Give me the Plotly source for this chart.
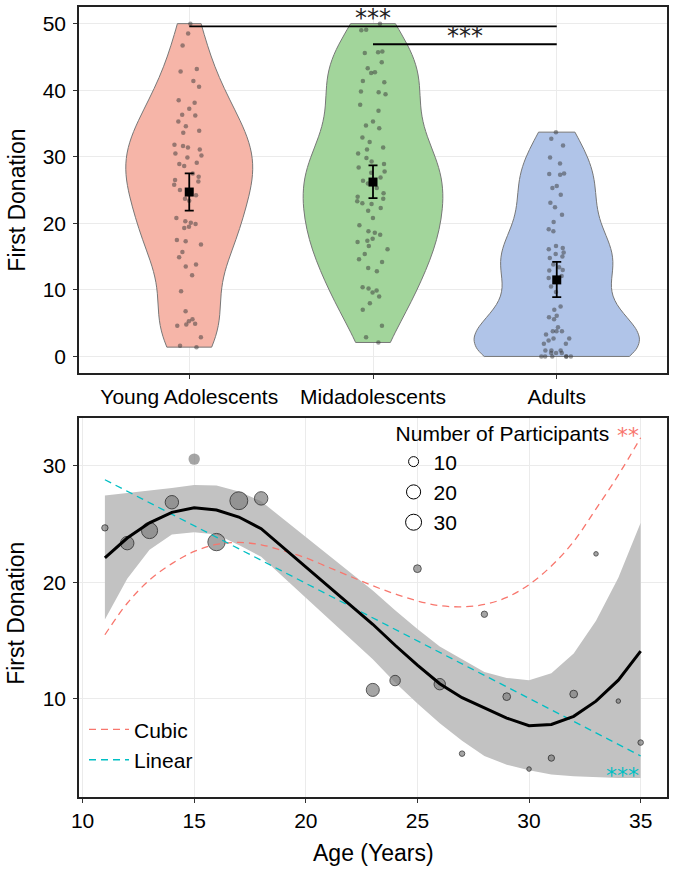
import plotly.graph_objects as go

# ---------------- data: top panel ----------------
groups = ["Young Adolescents", "Midadolescents", "Adults"]
young = [50.0, 48.5, 46.7, 43.2, 42.8, 41.4, 40.5, 38.5, 38.1, 37.2, 36.3, 36.2, 35.3, 34.6,
         33.9, 33.6, 31.8, 31.6, 31.4, 31.1, 30.5, 30.2, 29.9, 29.1, 28.9, 28.6, 27.5, 27.0,
         26.5, 26.3, 25.8, 25.0, 24.5, 24.2, 23.7, 23.4, 20.8, 20.3, 20.1, 19.9, 19.5, 19.3,
         17.5, 17.3, 16.8, 15.7, 14.9, 13.8, 13.5, 12.2, 9.8, 6.8, 5.6, 5.3, 4.9, 4.8, 4.6,
         2.9, 1.6, 1.4]
mid = [50.0, 49.1, 49.0, 45.8, 45.7, 45.6, 44.2, 43.3, 42.7, 42.6, 41.4, 41.2, 39.8, 39.7,
       39.4, 37.8, 36.9, 35.3, 34.7, 34.3, 32.9, 32.2, 31.4, 31.1, 30.5, 29.8, 29.3, 28.9,
       28.4, 27.8, 27.6, 26.9, 26.4, 26.0, 25.3, 24.5, 24.0, 23.7, 23.3, 23.0, 22.9, 22.3,
       21.9, 20.8, 19.7, 18.8, 18.6, 18.3, 17.7, 17.4, 17.2, 16.6, 16.1, 15.4, 14.6, 14.2,
       13.3, 12.8, 10.4, 10.2, 9.9, 9.6, 9.0, 8.0, 7.0, 4.6, 2.9, 2.1]
adults = [33.7, 32.7, 31.7, 29.9, 29.0, 27.5, 27.4, 27.3, 25.6, 25.3, 24.3, 23.1, 22.4, 21.3,
          20.2, 19.1, 18.8, 16.6, 16.3, 16.1, 15.6, 15.4, 15.0, 14.8, 13.8, 13.4, 13.0, 12.9,
          12.1, 11.8, 10.5, 9.7, 7.5, 7.0, 6.1, 5.9, 5.6, 4.4, 3.8, 3.8, 3.8, 3.3, 2.7, 2.7,
          2.4, 1.9, 1.9, 0.9, 0.9, 0.9, 0.5, 0.5, 0.5, 0.0, 0.0, 0.0, 0.0, 0.0, 0.0]
group_means = [24.7, 26.2, 11.5]
ci_low = [21.9, 23.8, 8.9]
ci_high = [27.5, 28.7, 14.2]
sig_from = [0, 1]
sig_to = [2, 2]
sig_y = [49.6, 46.9]
sig_text = ["***", "***"]

# ---------------- data: bottom panel ----------------
ages = [11, 12, 13, 14, 15, 16, 17, 18, 23, 24, 25, 26, 27, 28, 29, 30, 31, 32, 33, 34, 35]
mean_donation = [24.67, 23.36, 24.44, 26.87, 30.57, 23.45, 27.0, 27.2, 10.77, 11.57, 21.17,
                 11.26, 5.3, 17.26, 10.19, 3.98, 4.92, 10.41, 22.44, 9.81, 6.25]
n_participants = [4, 18, 26, 18, 13, 30, 32, 18, 17, 11, 6, 13, 3, 4, 6, 2, 4, 6, 2, 2, 3]
smooth_fit = [22.1, 23.8, 25.1, 26.0, 26.4, 26.2, 25.6, 24.6, 16.4, 14.6, 12.9, 11.3, 10.1,
              9.2, 8.35, 7.7, 7.8, 8.5, 9.8, 11.6, 14.1]
smooth_upper = [27.44, 27.64, 27.86, 28.1, 28.35, 28.3, 27.8, 26.95, 19.3, 17.6, 16.0, 14.5,
                13.4, 12.3, 11.8, 11.6, 12.2, 13.9, 16.7, 20.4, 25.1]
smooth_lower = [16.8, 20.3, 22.8, 24.1, 24.3, 24.1, 23.2, 22.2, 13.4, 11.4, 9.6, 7.9, 6.4,
                5.1, 4.35, 3.87, 3.5, 3.36, 3.27, 3.2, 3.2]
cubic_ages = list(range(11, 36))
cubic_fit = [15.5, 18.2, 20.2, 21.6, 22.65, 23.25, 23.42, 23.22, 22.7, 22.1, 21.3, 20.5, 19.7,
             19.0, 18.4, 18.0, 17.9, 18.1, 18.7, 19.8, 21.4, 23.5, 26.3, 29.2, 32.4]
linear_ages = [11, 35]
linear_fit = [28.8, 5.1]
legend_sizes = [10, 20, 30]
cubic_sig = "**"
linear_sig = "***"

# ---------------- styling ----------------
FONT = "Liberation Sans, Arial, sans-serif"
violin_fill = ["#F6B5A8", "#A2D59B", "#B0C4E8"]
violin_width = [0.69, 0.76, 0.9]
violin_bw = [5.0, 4.7, 4.0]
violin_jitter = [0.28, 0.26, 0.22]
RED = "#F8766D"
CYAN = "#00BFC4"
GRID = "#EBEBEB"
SIZEREF = 0.2

fig = go.Figure()

for i, (name, vals) in enumerate(zip(groups, [young, mid, adults])):
    fig.add_trace(go.Violin(
        y=vals, x0=i, name=name, width=violin_width[i], scalemode="width",
        spanmode="hard", bandwidth=violin_bw[i], fillcolor=violin_fill[i],
        line=dict(color="#777777", width=1), points="all", pointpos=0,
        jitter=violin_jitter[i], marker=dict(size=4.5, color="rgba(55,55,55,0.5)"),
        showlegend=False, xaxis="x", yaxis="y", hoverinfo="y"))

fig.add_trace(go.Scatter(
    x=list(range(len(groups))), y=group_means, mode="markers",
    marker=dict(symbol="square", size=9, color="black"),
    error_y=dict(type="data", symmetric=False,
                 array=[h - m for h, m in zip(ci_high, group_means)],
                 arrayminus=[m - l for m, l in zip(group_means, ci_low)],
                 color="black", thickness=1.8, width=4.5),
    showlegend=False, xaxis="x", yaxis="y"))

for a, b, yv in zip(sig_from, sig_to, sig_y):
    fig.add_trace(go.Scatter(x=[a, b], y=[yv, yv], mode="lines",
                             line=dict(color="black", width=1.8),
                             showlegend=False, xaxis="x", yaxis="y", hoverinfo="skip"))

annotations = []
for a, b, yv, t in zip(sig_from, sig_to, sig_y, sig_text):
    annotations.append(dict(x=(a + b) / 2, y=yv, xref="x", yref="y", text=t,
                            showarrow=False, xanchor="center", yanchor="bottom", yshift=-8,
                            font=dict(family="DejaVu Sans", size=24, color="#222")))

# bottom panel
fig.add_trace(go.Scatter(
    x=ages + ages[::-1], y=smooth_upper + smooth_lower[::-1], fill="toself",
    fillcolor="#C2C2C2", line=dict(width=0), mode="lines", showlegend=False,
    xaxis="x2", yaxis="y2", hoverinfo="skip"))

fig.add_trace(go.Scatter(
    x=ages, y=mean_donation, mode="markers",
    marker=dict(size=n_participants, sizemode="area", sizeref=SIZEREF,
                color="#808080",
                line=dict(color=["rgba(0,0,0,0)" if a == 15 else "#111" for a in ages], width=1)),
    showlegend=False, xaxis="x2", yaxis="y2"))

fig.add_trace(go.Scatter(
    x=cubic_ages, y=cubic_fit, mode="lines", name="Cubic", line_shape="spline",
    line=dict(color=RED, width=1.3, dash="7px,5px"), legend="legend",
    xaxis="x2", yaxis="y2"))
fig.add_trace(go.Scatter(
    x=linear_ages, y=linear_fit, mode="lines", name="Linear",
    line=dict(color=CYAN, width=1.3, dash="7px,5px"), legend="legend",
    xaxis="x2", yaxis="y2"))
fig.add_trace(go.Scatter(
    x=ages, y=smooth_fit, mode="lines", line=dict(color="black", width=3),
    showlegend=False, xaxis="x2", yaxis="y2"))

for s in legend_sizes:
    fig.add_trace(go.Scatter(
        x=[None], y=[None], mode="markers", name=str(s),
        marker=dict(size=2 * (s / (2 * SIZEREF)) ** 0.5, color="white",
                    line=dict(color="black", width=1)),
        legend="legend2", xaxis="x2", yaxis="y2"))

annotations.append(dict(x=35, y=32.85, xref="x2", yref="y2", text=cubic_sig,
                        showarrow=False, xanchor="right", yanchor="middle", yshift=-3,
                        font=dict(family="DejaVu Sans", size=22, color=RED)))
annotations.append(dict(x=35, y=3.9, xref="x2", yref="y2", text=linear_sig,
                        showarrow=False, xanchor="right", yanchor="middle", yshift=-6,
                        font=dict(family="DejaVu Sans", size=22, color=CYAN)))

# axis titles
annotations += [
    dict(text="First Donation", x=-0.107, y=0.755, xref="paper", yref="paper",
         xanchor="center", yanchor="middle",
         textangle=-90, showarrow=False, font=dict(size=23)),
    dict(text="First Donation", x=-0.107, y=0.232, xref="paper", yref="paper",
         xanchor="center", yanchor="middle",
         textangle=-90, showarrow=False, font=dict(size=23)),
    dict(text="Age (Years)", x=0.5, y=-0.0707, xref="paper", yref="paper",
         xanchor="center", yanchor="middle",
         showarrow=False, font=dict(size=23)),
]

axis_common = dict(showline=True, mirror=True, linecolor="#222", linewidth=1.5,
                   ticks="outside", ticklen=4, tickcolor="#333", tickwidth=1,
                   showgrid=True, gridcolor=GRID, gridwidth=1, zeroline=False)

fig.update_layout(
    width=674, height=872, margin=dict(l=79, r=6, t=5, b=75),
    paper_bgcolor="white", plot_bgcolor="white",
    font=dict(family=FONT, size=21, color="black"),
    violinmode="overlay",
    xaxis=dict(domain=[0, 1], range=[-0.6, 2.6], tickvals=[0, 1, 2], ticktext=groups,
               anchor="y", **axis_common),
    yaxis=dict(domain=[0.5366, 1], range=[-2.5, 52.5], tickvals=[0, 10, 20, 30, 40, 50],
               anchor="x", ticklabelstandoff=3, **axis_common),
    xaxis2=dict(domain=[0, 1], range=[9.84, 36.18], tickvals=[10, 15, 20, 25, 30, 35],
                anchor="y2", **axis_common),
    yaxis2=dict(domain=[0, 0.4798], range=[1.58, 34.1], tickvals=[10, 20, 30],
                anchor="x2", ticklabelstandoff=3, **axis_common),
    legend=dict(x=0.0085, y=0.111, xanchor="left", yanchor="top", bgcolor="rgba(0,0,0,0)",
                font=dict(size=21), tracegroupgap=0, itemwidth=40),
    legend2=dict(x=0.535, y=0.4846, xanchor="left", yanchor="top", bgcolor="rgba(0,0,0,0)",
                 font=dict(size=21), title=dict(text="Number of Participants", side="top",
                                                font=dict(size=21)),
                 itemsizing="trace", tracegroupgap=0),
    annotations=annotations,
)

fig.write_html("out.html", config={"displayModeBar": False},
               post_script="document.body.style.margin='0px';")
